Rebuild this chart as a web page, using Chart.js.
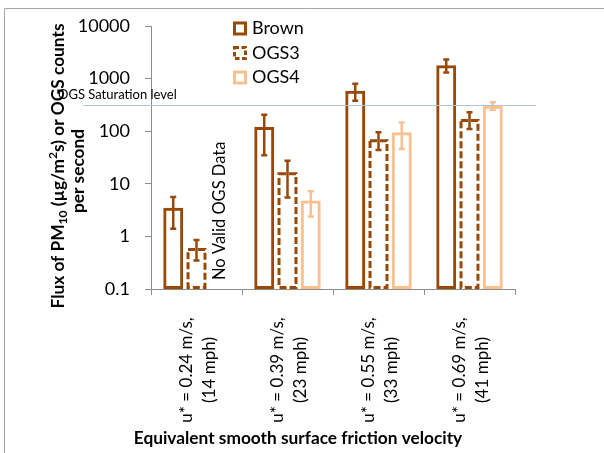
<!DOCTYPE html>
<html>
<head>
<meta charset="utf-8">
<script src="https://cdn.jsdelivr.net/npm/chart.js@4.4.0/dist/chart.umd.min.js"></script>
<style>
  html, body { margin: 0; padding: 0; background: #fff; }
  canvas { display: block; }
</style>
</head>
<body>
<canvas id="fluxCanvas" width="604" height="453"></canvas>
<script>
const velocities = ['u* = 0.24 m/s,', 'u* = 0.39 m/s,', 'u* = 0.55 m/s,', 'u* = 0.69 m/s,'];
const speedsMph = ['(14 mph)', '(23 mph)', '(33 mph)', '(41 mph)'];

const brown = [3.5, 120, 590, 1800];
const brownErr = [2.1, 85, 210, 500];
const ogs3 = [0.6, 16.5, 70, 170];
const ogs3Err = [0.25, 11, 26, 60];
const ogs4 = [null, 4.8, 96, 305];
const ogs4Err = [null, 2.4, 50, 50];

const yTicks = [0.1, 1, 10, 100, 1000, 10000];
const saturationLevel = 310;

const BROWN = '#984807';
const PEACH = '#fac090';
const AXIS = '#8c8c8c';
const FONT = 'Lato, "Open Sans", sans-serif';

// rotated text made of pieces, some of them sub/superscript
function drawRichVertical(c, parts, x, y, size) {
  c.save();
  c.translate(x, y);
  c.rotate(-Math.PI / 2);
  c.textBaseline = 'middle';
  c.textAlign = 'left';
  let total = 0;
  parts.forEach(p => {
    c.font = 'bold ' + (p.s ? size * 0.7 : size) + 'px ' + FONT;
    p.w = c.measureText(p.t).width;
    total += p.w;
  });
  let cx = -total / 2;
  parts.forEach(p => {
    c.font = 'bold ' + (p.s ? size * 0.7 : size) + 'px ' + FONT;
    let dy = 0;
    if (p.s === 'sub') dy = size * 0.28;
    if (p.s === 'sup') dy = -size * 0.3;
    c.fillText(p.t, cx, dy);
    cx += p.w;
  });
  c.restore();
}

const extras = {
  id: 'extras',
  beforeDraw(chart) {
    const c = chart.ctx;
    c.save();
    c.strokeStyle = '#a6a6a6';
    c.lineWidth = 1;
    c.beginPath();
    c.moveTo(4.5, 453);
    c.lineTo(4.5, 8.5);
    c.lineTo(604, 8.5);
    c.stroke();
    c.restore();
  },
  afterDatasetsDraw(chart) {
    const c = chart.ctx;
    const yScale = chart.scales.y;
    c.save();
    chart.data.datasets.forEach((ds, di) => {
      const meta = chart.getDatasetMeta(di);
      meta.data.forEach((bar, i) => {
        const v = ds.data[i];
        if (v == null) return;
        const p = bar.getProps(['x', 'y', 'base', 'width'], true);
        if (ds.dashed) {
          c.strokeStyle = ds.borderColor;
          c.lineWidth = 3;
          c.setLineDash([7, 3]);
          c.strokeRect(p.x - p.width / 2 + 1.5, p.y + 1.5, p.width - 3, p.base - p.y - 3);
          c.setLineDash([]);
        }
        // error bar
        const e = ds.err[i];
        const top = yScale.getPixelForValue(v + e);
        const bottom = yScale.getPixelForValue(v - e);
        c.strokeStyle = ds.borderColor;
        c.lineWidth = 2.5;
        c.beginPath();
        c.moveTo(p.x, top);
        c.lineTo(p.x, bottom);
        c.moveTo(p.x - 3, top);
        c.lineTo(p.x + 3, top);
        c.moveTo(p.x - 3, bottom);
        c.lineTo(p.x + 3, bottom);
        c.stroke();
      });
    });
    c.restore();
  },
  afterDraw(chart) {
    const c = chart.ctx;
    const xScale = chart.scales.x;
    const yScale = chart.scales.y;
    c.save();

    // saturation level
    const ys = Math.round(yScale.getPixelForValue(saturationLevel)) + 0.5;
    c.strokeStyle = '#aec4e2';
    c.lineWidth = 1;
    c.beginPath();
    c.moveTo(83, ys);
    c.lineTo(536, ys);
    c.stroke();
    c.fillStyle = '#000';
    c.font = '13px ' + FONT;
    c.textAlign = 'left';
    c.textBaseline = 'alphabetic';
    c.fillText('OGS Saturation level', 58, ys - 7);

    // category labels, two centred lines each
    c.font = '17px ' + FONT;
    c.textAlign = 'center';
    c.textBaseline = 'middle';
    velocities.forEach((lab, i) => {
      const x = xScale.getPixelForValue(i);
      [[lab, -10], [speedsMph[i], 13]].forEach(([t, dx]) => {
        c.save();
        c.translate(x + dx, 370);
        c.rotate(-Math.PI / 2);
        c.fillText(t, 0, 0);
        c.restore();
      });
    });

    // no OGS4 value in the first group
    const b0 = chart.getDatasetMeta(0).data[0];
    const o0 = chart.getDatasetMeta(1).data[0];
    c.save();
    c.translate(o0.x + (o0.x - b0.x), 280);
    c.rotate(-Math.PI / 2);
    c.font = '16.5px ' + FONT;
    c.textAlign = 'left';
    c.fillText('No Valid OGS Data', 0, 0);
    c.restore();

    // axis titles
    c.font = 'bold 17.3px ' + FONT;
    c.textAlign = 'center';
    c.fillText('Equivalent smooth surface friction velocity', 298, 438);
    drawRichVertical(c, [
      { t: 'Flux of PM' }, { t: '10', s: 'sub' }, { t: ' (µg/m' }, { t: '2', s: 'sup' },
      { t: 's) or OGS counts' }
    ], 58, 166, 17.3);
    drawRichVertical(c, [{ t: 'per second' }], 78, 171, 17.3);

    // legend
    c.font = '18px ' + FONT;
    c.textAlign = 'left';
    c.textBaseline = 'middle';
    chart.data.datasets.forEach((ds, i) => {
      const cy = 28.5 + i * 24.5;
      c.strokeStyle = ds.borderColor;
      c.lineWidth = 3;
      c.setLineDash(ds.dashed ? [4.5, 2.5] : []);
      c.strokeRect(234.5, cy - 5.5, 11, 11);
      c.setLineDash([]);
      c.fillStyle = '#000';
      c.fillText(ds.label, 252, cy);
    });
    c.restore();
  }
};

const ctx = document.getElementById('fluxCanvas').getContext('2d');
new Chart(ctx, {
  type: 'bar',
  data: {
    labels: velocities,
    datasets: [
      { label: 'Brown', data: brown, err: brownErr, borderColor: BROWN, backgroundColor: 'rgba(255,255,255,0)', borderWidth: 3, borderSkipped: false },
      { label: 'OGS3', data: ogs3, err: ogs3Err, borderColor: BROWN, backgroundColor: 'rgba(255,255,255,0)', borderWidth: 0, dashed: true },
      { label: 'OGS4', data: ogs4, err: ogs4Err, borderColor: PEACH, backgroundColor: 'rgba(255,255,255,0)', borderWidth: 3, borderSkipped: false }
    ]
  },
  options: {
    responsive: false,
    animation: false,
    layout: { padding: { top: 26, right: 89, left: 0, bottom: 0 } },
    datasets: { bar: { categoryPercentage: 0.767, barPercentage: 0.857 } },
    scales: {
      x: {
        offset: true,
        grid: { offset: true, drawOnChartArea: false, tickLength: 6, color: AXIS },
        border: { color: AXIS },
        ticks: { display: false },
        afterFit: s => { s.height = 164; }
      },
      y: {
        type: 'logarithmic',
        min: 0.1,
        max: 10000,
        beginAtZero: false,
        afterBuildTicks: s => { s.ticks = yTicks.map(v => ({ value: v })); },
        ticks: { callback: v => String(v), font: { family: FONT, size: 18 }, color: '#000', padding: 15 },
        grid: { drawOnChartArea: false, tickLength: 6, color: AXIS },
        border: { color: AXIS },
        afterFit: s => { s.width = 151; }
      }
    },
    plugins: { legend: { display: false }, tooltip: { enabled: false } }
  },
  plugins: [extras]
});
</script>
</body>
</html>
